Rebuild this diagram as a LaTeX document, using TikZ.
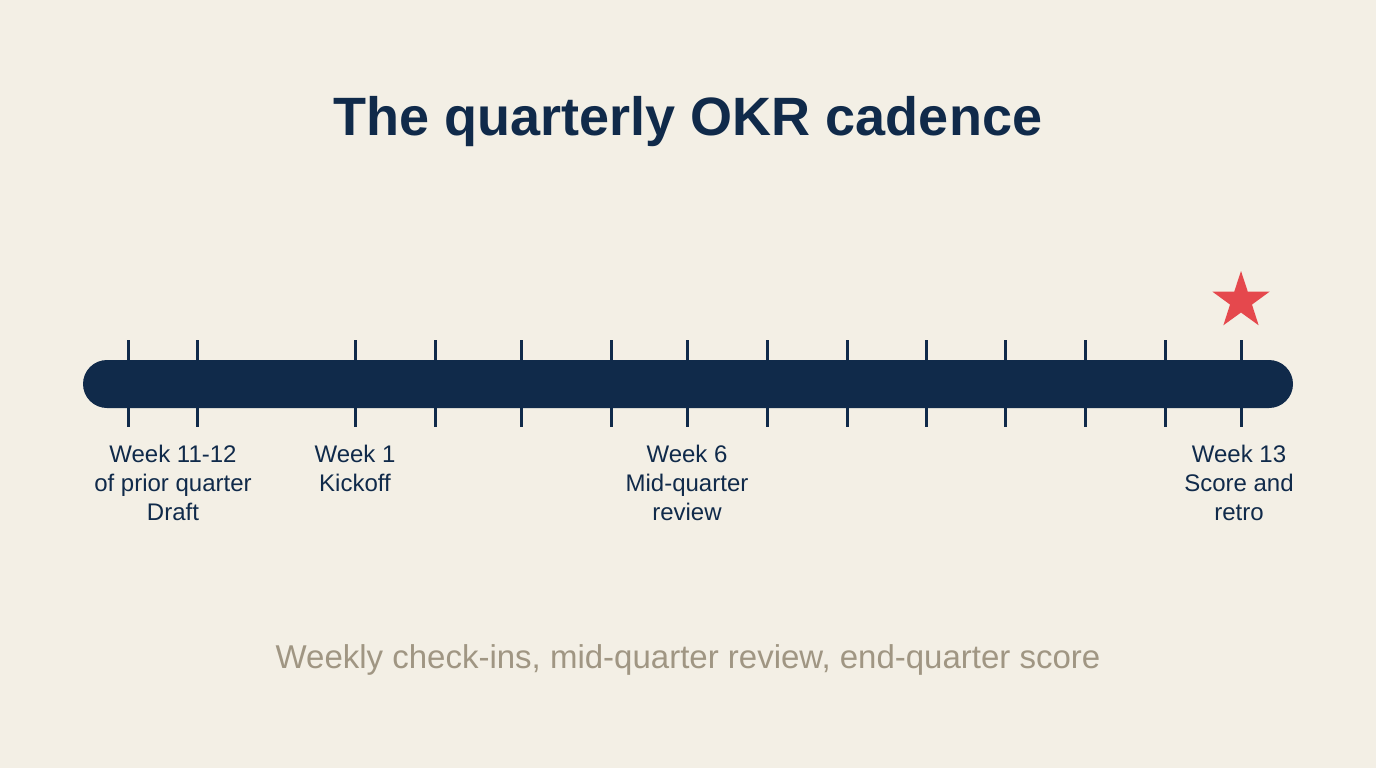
\documentclass[tikz,border=0pt]{standalone}
\usepackage{fontspec}
\setmainfont{Liberation Sans}
\usepackage{xcolor}
\usepackage{tikz}
\usetikzlibrary{shapes.geometric}
\definecolor{bgcream}{HTML}{F3EFE5}
\definecolor{navy}{HTML}{102A4A}
\definecolor{starred}{HTML}{E5484D}
\definecolor{notegray}{HTML}{A09683}
\tikzstyle{headline}=[text=navy, font=\fontsize{54}{60}\selectfont\bfseries, anchor=base, inner sep=0pt]
\tikzstyle{timebar}=[rectangle, fill=navy, rounded corners=24pt,% the long bar of the quarter
minimum width=1210pt, minimum height=48pt, inner sep=0pt]
\tikzstyle{wktick}=[draw=navy, line width=3pt]
\tikzstyle{wklabel}=[text=navy, font=\fontsize{24}{29}\selectfont, align=center, anchor=north, inner sep=0pt]
\tikzstyle{milestar}=[star, star points=5, star point ratio=2.6, fill=starred,
minimum size=60pt, inner sep=0pt]
\tikzstyle{footnote}=[text=notegray, font=\fontsize{33}{36}\selectfont, anchor=base, inner sep=0pt]

\begin{document}
\begin{tikzpicture}[x=1pt,y=-1pt]
\fill[bgcream] (0,0) rectangle (1376,768);
\node[headline] (title) at (688,135) {The quarterly OKR cadence};
\node[timebar] (bar) at (688,384) {};
\foreach \x in {128,197,355,435,521,611,687,767,847,926,1005,1085,1165,1241}
  \draw[wktick] (\x,340) -- (\x,427);
\node[wklabel] (draft) at (173,445) {Week 11-12\\of prior quarter\\Draft};
\node[wklabel] (kickoff) at (355,445) {Week 1\\Kickoff};
\node[wklabel] (midq) at (687,445) {Week 6\\Mid-quarter\\review};
\node[wklabel] (score) at (1239,445) {Week 13\\Score and\\retro};
\node[milestar] (star) at (1241,301) {};
\node[footnote] (note) at (688,668) {Weekly check-ins, mid-quarter review, end-quarter score};
\end{tikzpicture}
\end{document}
